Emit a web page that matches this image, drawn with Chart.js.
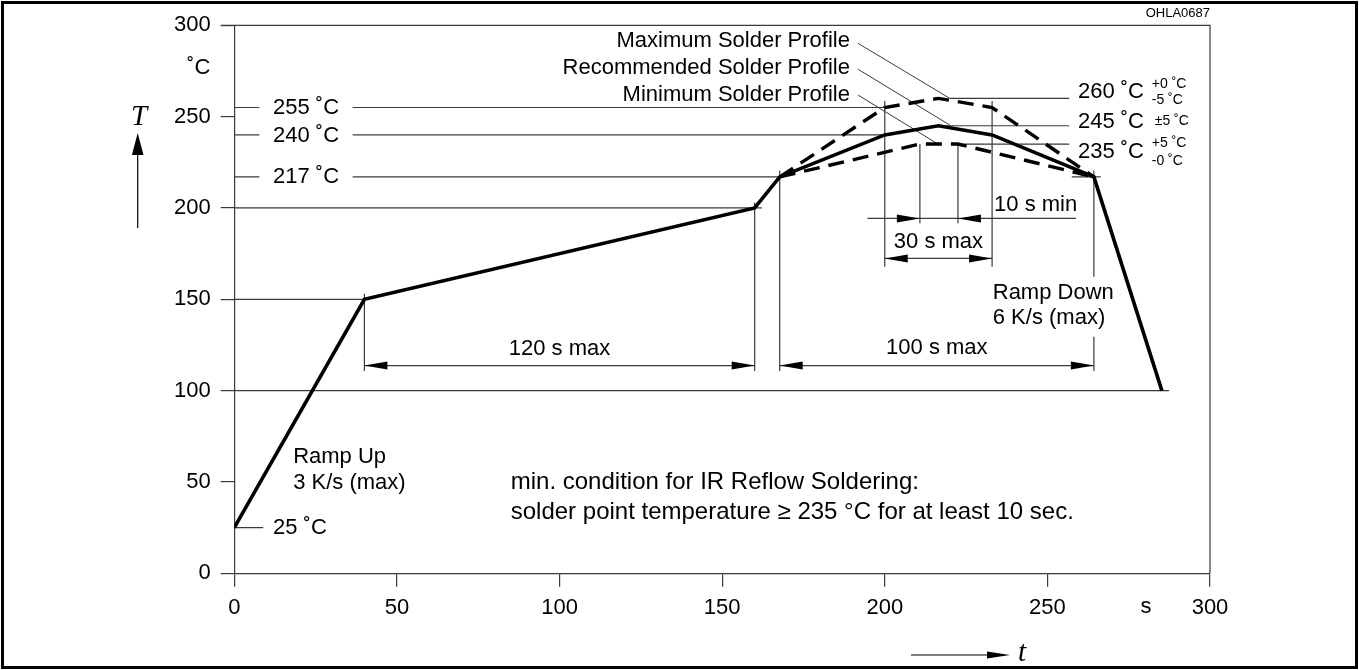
<!DOCTYPE html>
<html><head><meta charset="utf-8">
<script src="https://cdn.jsdelivr.net/npm/chart.js@4"></script>
<style>html,body{margin:0;padding:0;background:#fff}canvas{display:block}</style>
</head><body>
<canvas id="c" width="1359" height="670"></canvas>
<script>
// ---- data (time in s, temperature in °C) ----
const timeTicks = [0, 50, 100, 150, 200, 250, 300];
const tempTicks = [0, 50, 100, 150, 200, 250, 300];
const recommendedTime = [0, 40, 160, 167.7, 200, 216.5, 233, 264.3, 285.2];
const recommendedTemp = [25, 150, 200, 217, 240, 245, 240, 217, 100];
const maximumTime = [167.7, 200, 216.5, 233, 264.3];
const maximumTemp = [217, 255, 260, 255, 217];
const minimumTime = [167.7, 210.8, 222.5, 264.3];
const minimumTemp = [217, 235, 235, 217];
const seriesNames = ['Recommended Solder Profile', 'Maximum Solder Profile', 'Minimum Solder Profile'];

// ---- annotations in data units ----
const refLines = [ // [temp, fromTime, toTime]
  [255, 0, 7.7], [255, 36.4, 200],
  [240, 0, 7.7], [240, 36.4, 200],
  [217, 0, 7.7], [217, 36.4, 167.7], [217, 257.5, 266.4],
  [200, 0, 162.2], [150, 0, 40], [100, 0, 287.4], [25, 0, 8.9],
  [260, 220, 256.7], [245, 217, 256.7], [235, 222.5, 256.7]
];
const extLines = [ // [time, fromTemp, toTemp]
  [40, 153, 110.7], [160, 203, 110.7], [167.7, 220.5, 110.7],
  [264.3, 220.5, 162.4], [264.3, 129.5, 110.7],
  [200, 258.5, 167.8], [233, 258.5, 167.8],
  [210.8, 235, 191.7], [222.5, 235, 191.7]
];
const leaderLines = [ // [t1, T1, t2, T2]
  [191.8, 290.1, 220, 260],
  [191.8, 275.9, 220, 245.4],
  [191.8, 261.8, 215.9, 235.5]
];
const dimLines = [ // [temp, from, to, tipA, dirA, tipB, dirB]
  [113.7, 40, 160, 40, -1, 160, 1],
  [113.7, 167.7, 264.3, 167.7, -1, 264.3, 1],
  [172.4, 200, 233, 200, -1, 233, 1],
  [194.3, 194.7, 258.8, 210.8, 1, 222.5, -1]
];
const labels = [ // [text, time, temp, align, fontSize]
  ['255 ˚C', 11.9, 254.8, 'left', 22], ['240 ˚C', 11.9, 239.5, 'left', 22],
  ['217 ˚C', 11.9, 216.8, 'left', 22], ['25 ˚C', 11.9, 24.6, 'left', 22],
  ['Ramp Up', 18.1, 63.8, 'left', 22], ['3 K/s (max)', 18.1, 49.6, 'left', 22],
  ['120 s max', 100, 122.6, 'center', 22], ['100 s max', 216, 123.3, 'center', 22],
  ['30 s max', 216.5, 181.4, 'center', 22], ['10 s min', 246.4, 201.6, 'center', 22],
  ['Ramp Down', 233.2, 153.6, 'left', 22], ['6 K/s (max)', 233.2, 139.7, 'left', 22],
  ['Maximum Solder Profile', 189.3, 291.5, 'right', 22],
  ['Recommended Solder Profile', 189.3, 276.4, 'right', 22],
  ['Minimum Solder Profile', 189.3, 261.8, 'right', 22],
  ['260 ˚C', 259.4, 263.6, 'left', 22], ['+0 ˚C', 282.1, 267.8, 'left', 14], ['-5 ˚C', 282.1, 259.1, 'left', 14],
  ['245 ˚C', 259.4, 247.2, 'left', 22], ['±5 ˚C', 283, 247.7, 'left', 14],
  ['235 ˚C', 259.4, 230.8, 'left', 22], ['+5 ˚C', 282.1, 235.5, 'left', 14], ['-0 ˚C', 282.1, 225.7, 'left', 14],
  ['min. condition for IR Reflow Soldering:', 85, 49.6, 'left', 24],
  ['solder point temperature ≥ 235 °C for at least 10 sec.', 85, 33.6, 'left', 24]
];

const toXY = (t, T) => t.map((v, i) => ({x: v, y: T[i]}));
const FONT = '"Liberation Sans", Arial, Helvetica, sans-serif';
const LINE = '#3a3a3a';

function arrowHead(ctx, x, y, dx, dy, len, half) {
  ctx.beginPath();
  ctx.moveTo(x, y);
  ctx.lineTo(x - dx * len - dy * half, y - dy * len + dx * half);
  ctx.lineTo(x - dx * len + dy * half, y - dy * len - dx * half);
  ctx.closePath();
  ctx.fill();
}

const decor = {
  id: 'decor',
  beforeDraw(chart) {
    const ctx = chart.ctx;
    ctx.save();
    ctx.fillStyle = '#fff';
    ctx.fillRect(0, 0, chart.width, chart.height);
    ctx.restore();
  },
  beforeDatasetsDraw(chart) {
    const ctx = chart.ctx, xs = chart.scales.x, ys = chart.scales.y;
    const px = v => xs.getPixelForValue(v), py = v => ys.getPixelForValue(v);
    const a = chart.chartArea;
    ctx.save();
    ctx.strokeStyle = LINE; ctx.lineWidth = 1.2; ctx.fillStyle = '#000';
    ctx.beginPath();
    ctx.moveTo(a.left - 13.5, a.top); ctx.lineTo(a.right, a.top); ctx.lineTo(a.right, a.bottom);
    ctx.stroke();
    ctx.beginPath();
    refLines.forEach(([T, t1, t2]) => { ctx.moveTo(px(t1), py(T)); ctx.lineTo(px(t2), py(T)); });
    extLines.forEach(([t, T1, T2]) => { ctx.moveTo(px(t), py(T1)); ctx.lineTo(px(t), py(T2)); });
    ctx.stroke();
    ctx.lineWidth = 1;
    ctx.beginPath();
    leaderLines.forEach(([t1, T1, t2, T2]) => { ctx.moveTo(px(t1), py(T1)); ctx.lineTo(px(t2), py(T2)); });
    ctx.stroke();
    ctx.lineWidth = 1.2;
    dimLines.forEach(([T, f, to, ta, da, tb, db]) => {
      const y = py(T);
      ctx.beginPath(); ctx.moveTo(px(f), y); ctx.lineTo(px(to), y); ctx.stroke();
      arrowHead(ctx, px(ta), y, da, 0, 23, 4);
      arrowHead(ctx, px(tb), y, db, 0, 23, 4);
    });
    ctx.restore();
  },
  afterDraw(chart) {
    const ctx = chart.ctx, xs = chart.scales.x, ys = chart.scales.y;
    const px = v => xs.getPixelForValue(v), py = v => ys.getPixelForValue(v);
    const a = chart.chartArea;
    ctx.save();
    ctx.fillStyle = '#000';
    ctx.textBaseline = 'middle';
    labels.forEach(([txt, t, T, al, fs]) => {
      ctx.font = fs + 'px ' + FONT;
      ctx.textAlign = al;
      ctx.fillText(txt, px(t), py(T));
    });
    ctx.font = '22px ' + FONT;
    ctx.textAlign = 'right';
    ctx.fillText('˚C', a.left - 24, 68);
    ctx.textAlign = 'center';
    ctx.fillText('s', 1146, 607);
    ctx.font = '13px ' + FONT;
    ctx.textAlign = 'right';
    ctx.fillText('OHLA0687', a.right, 13);
    ctx.strokeStyle = '#000'; ctx.lineWidth = 1.2;
    ctx.beginPath(); ctx.moveTo(137.7, 228); ctx.lineTo(137.7, 150); ctx.stroke();
    arrowHead(ctx, 137.7, 133, 0, -1, 22, 5.8);
    ctx.font = 'italic 29px "Liberation Serif", "DejaVu Serif", serif';
    ctx.textAlign = 'center';
    ctx.fillText('T', 139, 117);
    ctx.beginPath(); ctx.moveTo(911, 655); ctx.lineTo(992, 655); ctx.stroke();
    arrowHead(ctx, 1010, 655, 1, 0, 23, 3.6);
    ctx.fillText('t', 1022, 653);
    ctx.strokeStyle = '#000'; ctx.lineWidth = 3;
    ctx.strokeRect(2.5, 2.5, chart.width - 5, chart.height - 5);
    ctx.restore();
  }
};

const tickFont = {family: FONT, size: 22};
new Chart(document.getElementById('c'), {
  type: 'scatter',
  data: {
    datasets: [
      {label: seriesNames[0], data: toXY(recommendedTime, recommendedTemp), showLine: true,
       borderColor: '#000', borderWidth: 3.6, pointRadius: 0, tension: 0, order: 0},
      {label: seriesNames[1], data: toXY(maximumTime, maximumTemp), showLine: true,
       borderColor: '#000', borderWidth: 3.4, borderDash: [16, 9], pointRadius: 0, tension: 0, order: 1},
      {label: seriesNames[2], data: toXY(minimumTime, minimumTemp), showLine: true,
       borderColor: '#000', borderWidth: 3.4, borderDash: [16, 9], pointRadius: 0, tension: 0, order: 2}
    ]
  },
  options: {
    responsive: false, animation: false, devicePixelRatio: 1,
    layout: {padding: {left: 0, right: 149, top: 25.3, bottom: 0}},
    plugins: {legend: {display: false}, tooltip: {enabled: false}},
    scales: {
      x: {
        type: 'linear', min: 0, max: 300,
        afterBuildTicks: s => { s.ticks = timeTicks.map(v => ({value: v})); },
        afterFit: s => { s.height = 96.7; },
        ticks: {font: tickFont, color: '#000', padding: 8, maxRotation: 0},
        grid: {drawOnChartArea: false, tickLength: 13.4, color: LINE, lineWidth: 1.2},
        border: {display: true, color: LINE, width: 1.2}
      },
      y: {
        type: 'linear', min: 0, max: 300,
        afterBuildTicks: s => { s.ticks = tempTicks.map(v => ({value: v})); },
        afterFit: s => { s.width = 234.3; },
        ticks: {font: tickFont, color: '#000', padding: 10},
        grid: {drawOnChartArea: false, tickLength: 13.6, color: LINE, lineWidth: 1.2},
        border: {display: true, color: LINE, width: 1.2}
      }
    }
  },
  plugins: [decor]
});
</script>
</body></html>
